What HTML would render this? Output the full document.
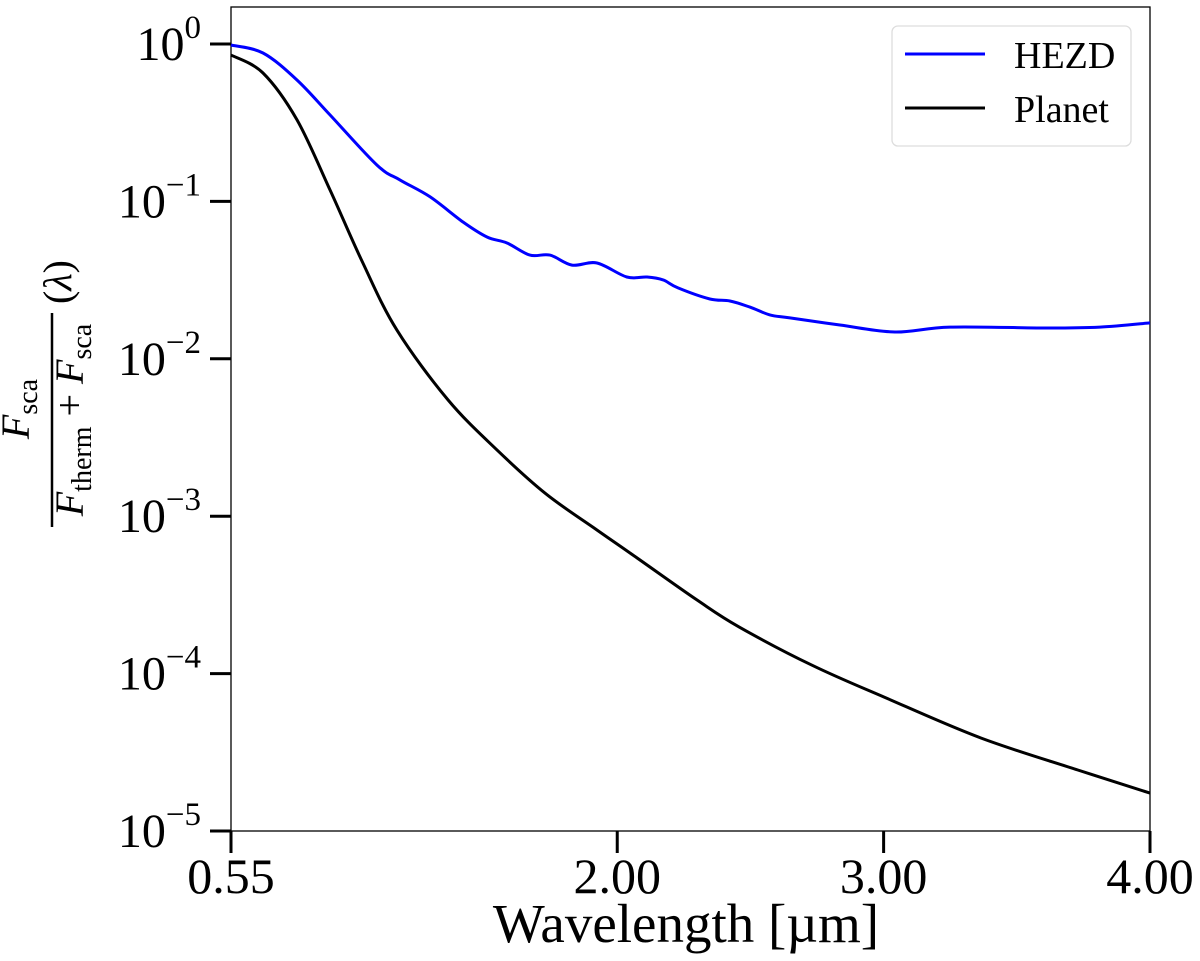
<!DOCTYPE html>
<html><head><meta charset="utf-8"><style>
html,body{margin:0;padding:0;background:#fff;}
svg{display:block;font-family:"Liberation Serif","DejaVu Serif",serif;}
</style></head><body>
<svg id="chart" width="1200" height="961" viewBox="0 0 1200 961" xmlns="http://www.w3.org/2000/svg">
<g id="plot"></g>
</svg>
<script>
const xTicks = [0.55, 2.00, 3.00, 4.00];
const xTickLabels = ["0.55", "2.00", "3.00", "4.00"];
const yTickExps = [0, -1, -2, -3, -4, -5];
const hezdLambda = [0.55,0.670,0.798,0.922,1.098,1.184,1.297,1.421,1.511,1.586,1.672,1.747,1.830,1.924,2.036,2.112,2.172,2.228,2.348,2.423,2.498,2.573,2.648,2.836,3.042,3.249,3.624,3.812,4.0];
const hezdValues = [0.985,0.877,0.59,0.354,0.170,0.137,0.107,0.074,0.0594,0.0544,0.0456,0.0456,0.0394,0.0406,0.0331,0.0331,0.0317,0.0282,0.024,0.0233,0.0213,0.019,0.0182,0.0164,0.0148,0.0159,0.0157,0.0159,0.0169];
const planetLambda = [0.55,0.670,0.798,0.922,1.045,1.173,1.365,1.549,1.729,1.913,2.048,2.299,2.457,2.731,3.001,3.365,3.729,4.0];
const planetValues = [0.851,0.654,0.329,0.118,0.0406,0.0152,0.00547,0.00263,0.0014,0.000841,0.000584,0.000294,0.000198,0.000113,0.000071,0.000039,0.0000244,0.0000174];

const NS="http://www.w3.org/2000/svg";
const L=231,R=1150,T=7,B=831;
const yTop=44, dec=157.4;
function xs(v){return L+(v-0.55)/(4.0-0.55)*(R-L);}
function ys(v){return yTop-Math.log10(v)*dec;}
const g=document.getElementById('plot');
function el(t,a,p){const e=document.createElementNS(NS,t);for(const k in a)e.setAttribute(k,a[k]);(p||g).appendChild(e);return e;}

const fr=el('rect',{x:L,y:T,width:R-L,height:B-T,fill:'none',stroke:'#000','stroke-width':1.3});



yTickExps.forEach(e=>{
  const y=ys(Math.pow(10,e));
  const t=el('line',{x1:L-21,x2:L,y1:y,y2:y,stroke:'#000','stroke-width':3});
  
  
  const tx=el('text',{x:L-30,y:y+16,'font-size':48,'text-anchor':'end'});
  
  
  tx.innerHTML='10<tspan dy="-22" font-size="33">'+(e===0?'0':'\u2212'+(-e))+'</tspan>';
});
xTicks.forEach((v,i)=>{
  const x=xs(v);
  const t=el('line',{x1:x,x2:x,y1:B,y2:B+22,stroke:'#000','stroke-width':3});
  
  
  const tx=el('text',{x:x,y:B+62,'font-size':50,'text-anchor':'middle'});
  
  
  tx.textContent=xTickLabels[i];
});
const xt=el('text',{x:686,y:942,'font-size':55,'text-anchor':'middle'});


xt.textContent='Wavelength [\u00b5m]';

function path(xa,va){
  const p=xa.map((x,i)=>[xs(x),ys(va[i])]);
  let d='M'+p[0][0].toFixed(1)+' '+p[0][1].toFixed(1);
  for(let i=0;i<p.length-1;i++){
    const p0=p[Math.max(i-1,0)],p1=p[i],p2=p[i+1],p3=p[Math.min(i+2,p.length-1)];
    const c1=[p1[0]+(p2[0]-p0[0])/6,p1[1]+(p2[1]-p0[1])/6];
    const c2=[p2[0]-(p3[0]-p1[0])/6,p2[1]-(p3[1]-p1[1])/6];
    d+=' C'+c1[0].toFixed(1)+' '+c1[1].toFixed(1)+' '+c2[0].toFixed(1)+' '+c2[1].toFixed(1)+' '+p2[0].toFixed(1)+' '+p2[1].toFixed(1);
  }
  return d;
}
const ph=el('path',{d:path(hezdLambda,hezdValues),fill:'none',stroke:'#0000ff','stroke-width':3,'stroke-linejoin':'round'});


const pp=el('path',{d:path(planetLambda,planetValues),fill:'none',stroke:'#000','stroke-width':3,'stroke-linejoin':'round'});



const lg=el('g',{});


el('rect',{x:892,y:26,width:239,height:120,rx:6,fill:'#fff',stroke:'#ddd','stroke-width':1.3},lg);
const e1=el('line',{x1:905,x2:985,y1:54,y2:54,stroke:'#0000ff','stroke-width':3},lg);


const t1=el('text',{x:1014,y:68,'font-size':38},lg);


t1.textContent='HEZD';
const e2=el('line',{x1:905,x2:985,y1:108,y2:108,stroke:'#000','stroke-width':3},lg);


const t2=el('text',{x:1014,y:122,'font-size':38},lg);


t2.textContent='Planet';

const yl=el('g',{transform:'translate(60,420) rotate(-90)'});


const num=el('text',{x:11,y:-31,'font-size':40,'text-anchor':'middle'},yl);
num.innerHTML='<tspan font-style="italic">F</tspan><tspan dy="8" font-size="28">sca</tspan>';
el('line',{x1:-107,x2:107,y1:-8,y2:-8,stroke:'#000','stroke-width':2.5},yl);
const den=el('text',{x:0,y:23,'font-size':40,'text-anchor':'middle'},yl);
den.innerHTML='<tspan font-style="italic">F</tspan><tspan dy="8" font-size="28">therm</tspan><tspan dy="-8"> + </tspan><tspan font-style="italic">F</tspan><tspan dy="8" font-size="28">sca</tspan>';
const lam=el('text',{x:138,y:11,'font-size':40,'text-anchor':'middle'},yl);
lam.innerHTML='(<tspan font-style="italic">\u03bb</tspan>)';
</script>
</body></html>
